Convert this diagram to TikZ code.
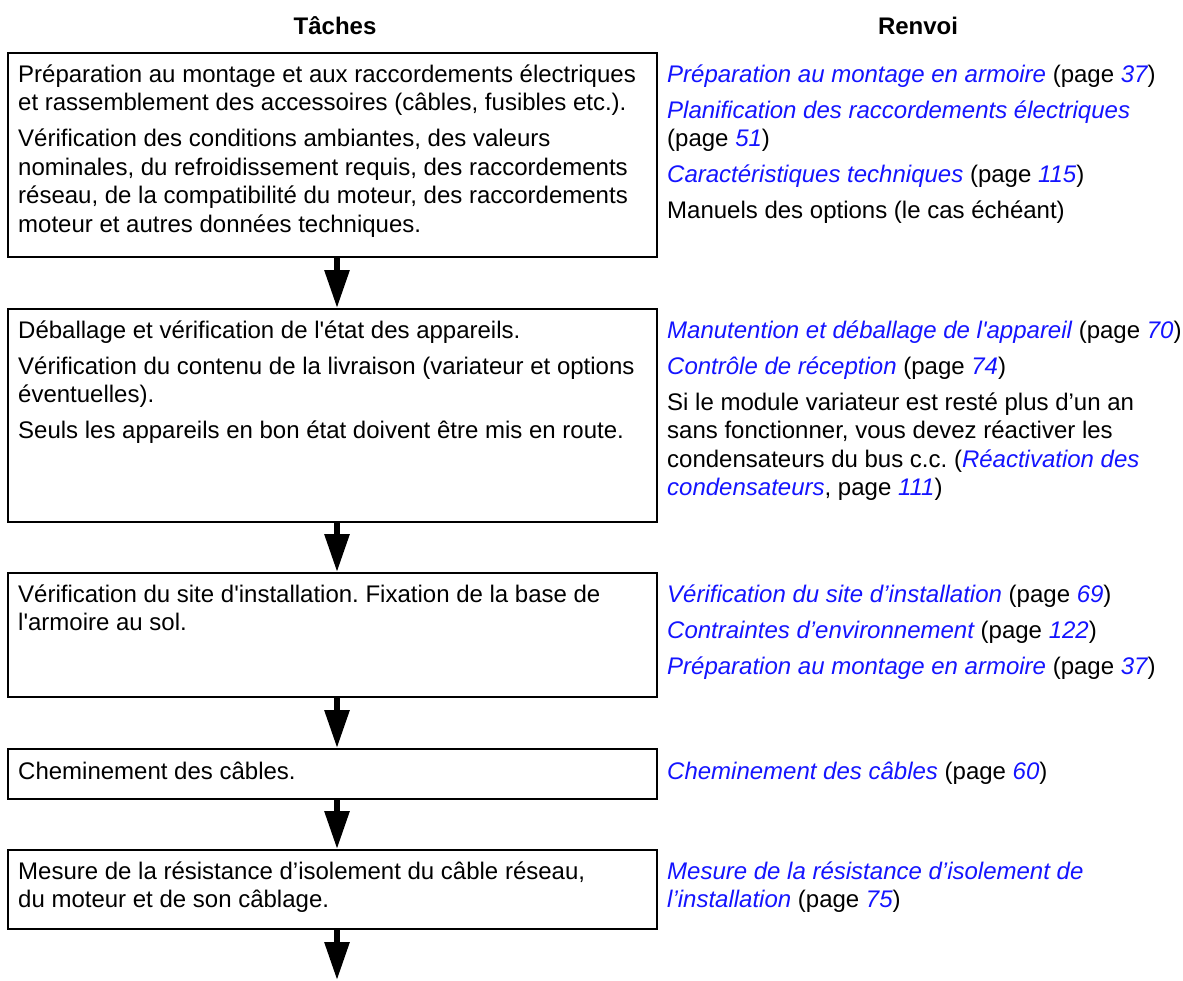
\documentclass[tikz,border=0pt]{standalone}
\usepackage{fontspec}
\newfontfamily\arial{Liberation Sans}
\usetikzlibrary{arrows.meta}
\definecolor{linkblue}{RGB}{20,20,255}
\newcommand\lnk[1]{{\color{linkblue}\itshape #1}}
\frenchspacing
\begin{document}
\begin{tikzpicture}[x=1pt,y=-1pt,
  box/.style={draw, line width=2pt, inner sep=0pt, anchor=north west, minimum width=649pt},
  txt/.style={anchor=base west, inner sep=0pt, font=\arial\frenchspacing\fontsize{24}{28.5}\selectfont},
  head/.style={anchor=base, inner sep=0pt, font=\arial\bfseries\fontsize{24}{28.5}\selectfont},
  flow/.style={line width=6pt, -{Triangle[length=38pt,width=24pt]}}]
\useasboundingbox (0,0) rectangle (1183,980);

% headers
\node[head] (hT) at (335,34) {Tâches};
\node[head] (hR) at (918,34) {Renvoi};

% boxes
\node[box, minimum height=204pt] (b1) at (7,52) {};
\node[box, minimum height=213pt] (b2) at (7,308) {};
\node[box, minimum height=124pt] (b3) at (7,572) {};
\node[box, minimum height=50pt] (b4) at (7,748) {};
\node[box, minimum height=79pt] (b5) at (7,849) {};

% arrows
\coordinate (ax) at (337,0);
\coordinate (fin) at (337,980);
\draw[flow] (b1.south -| ax) -- (b2.north -| ax);
\draw[flow] (b2.south -| ax) -- (b3.north -| ax);
\draw[flow] (b3.south -| ax) -- (b4.north -| ax);
\draw[flow] (b4.south -| ax) -- (b5.north -| ax);
\draw[flow] (b5.south -| ax) -- (fin);

% box 1
\node[txt] (l1a) at (18,82) {Préparation au montage et aux raccordements électriques};
\node[txt] (l1b) at (18,110.5) {et rassemblement des accessoires (câbles, fusibles etc.).};
\node[txt] (l1c) at (18,146.5) {Vérification des conditions ambiantes, des valeurs};
\node[txt] (l1d) at (18,175) {nominales, du refroidissement requis, des raccordements};
\node[txt] (l1e) at (18,203.5) {réseau, de la compatibilité du moteur, des raccordements};
\node[txt] (l1f) at (18,232) {moteur et autres données techniques.};
\node[txt] (r1a) at (667,82) {\lnk{Préparation au montage en armoire} (page \lnk{37})};
\node[txt] (r1b) at (667,118) {\lnk{Planification des raccordements électriques}};
\node[txt] (r1c) at (667,146.5) {(page \lnk{51})};
\node[txt] (r1d) at (667,182.5) {\lnk{Caractéristiques techniques} (page \lnk{115})};
\node[txt] (r1e) at (667,218.5) {Manuels des options (le cas échéant)};

% box 2
\node[txt] (l2a) at (18,338) {Déballage et vérification de l'état des appareils.};
\node[txt] (l2b) at (18,374) {Vérification du contenu de la livraison (variateur et options};
\node[txt] (l2c) at (18,402.5) {éventuelles).};
\node[txt] (l2d) at (18,438.5) {Seuls les appareils en bon état doivent être mis en route.};
\node[txt] (r2a) at (667,338) {\lnk{Manutention et déballage de l'appareil} (page \lnk{70})};
\node[txt] (r2b) at (667,374) {\lnk{Contrôle de réception} (page \lnk{74})};
\node[txt] (r2c) at (667,410) {Si le module variateur est resté plus d’un an};
\node[txt] (r2d) at (667,438.5) {sans fonctionner, vous devez réactiver les};
\node[txt] (r2e) at (667,467) {condensateurs du bus c.c. (\lnk{Réactivation des}};
\node[txt] (r2f) at (667,495.5) {\lnk{condensateurs}, page \lnk{111})};

% box 3
\node[txt] (l3a) at (18,602) {Vérification du site d'installation. Fixation de la base de};
\node[txt] (l3b) at (18,630.5) {l'armoire au sol.};
\node[txt] (r3a) at (667,602) {\lnk{Vérification du site d’installation} (page \lnk{69})};
\node[txt] (r3b) at (667,638) {\lnk{Contraintes d’environnement} (page \lnk{122})};
\node[txt] (r3c) at (667,674) {\lnk{Préparation au montage en armoire} (page \lnk{37})};

% box 4
\node[txt] (l4a) at (18,779) {Cheminement des câbles.};
\node[txt] (r4a) at (667,779) {\lnk{Cheminement des câbles} (page \lnk{60})};

% box 5
\node[txt] (l5a) at (18,879) {Mesure de la résistance d’isolement du câble réseau,};
\node[txt] (l5b) at (18,907.5) {du moteur et de son câblage.};
\node[txt] (r5a) at (667,879) {\lnk{Mesure de la résistance d’isolement de}};
\node[txt] (r5b) at (667,907.5) {\lnk{l’installation} (page \lnk{75})};
\end{tikzpicture}
\end{document}
